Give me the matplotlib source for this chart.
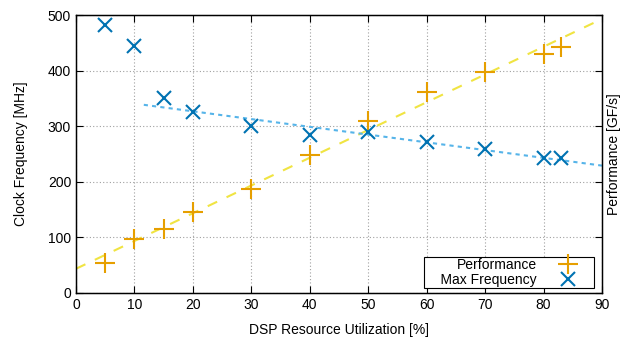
import numpy as np
import matplotlib
matplotlib.use("Agg")
import matplotlib.pyplot as plt

plt.rcParams['font.family'] = ['Liberation Sans', 'DejaVu Sans']

util = [5, 10, 15, 20, 30, 40, 50, 60, 70, 80, 83]
perf = [54, 98, 116, 145, 187, 248, 310, 362, 398, 430, 443]
freq = [482, 444, 350, 326, 300, 285, 290, 272, 259, 243, 242]
xticks = [0, 10, 20, 30, 40, 50, 60, 70, 80, 90]
yticks = [0, 100, 200, 300, 400, 500]

fig = plt.figure(figsize=(6.21, 3.37), dpi=100)
ax = fig.add_axes([76/621, 1-293/337, (602-76)/621, (293-15)/337])

ax.set_xlim(0, 90)
ax.set_ylim(0, 500)
ax.set_xticks(xticks)
ax.set_yticks(yticks)
ax.grid(True, color='#a0a0a0', linestyle=(0, (1, 2)), linewidth=0.8)
ax.set_axisbelow(True)

# fits
pf = np.polyfit(util, perf, 1)
xp = np.linspace(0, 90, 50)
ax.plot(xp, np.polyval(pf, xp), color='#F0E442', lw=1.5, dashes=(5, 5), zorder=2)
ff = np.polyfit(util[2:], freq[2:], 1)
xf = np.linspace(11.6, 90, 50)
ax.plot(xf, np.polyval(ff, xf), color='#56B4E9', lw=1.5, dashes=(2, 2), zorder=2)

ax.plot(util, perf, linestyle='none', marker='+', markersize=14, mew=1.5,
        color='#E69F00', label='Performance', zorder=3)
ax.plot(util, freq, linestyle='none', marker='x', markersize=10, mew=1.5,
        color='#0072B2', label='    Max Frequency', zorder=3)

ax.tick_params(direction='in', length=5, top=True, right=True, labelsize=10, width=0.8)
for s in ax.spines.values():
    s.set_linewidth(1.0)

ax.set_xlabel('DSP Resource Utilization [%]', fontsize=10, labelpad=8)
ax.set_ylabel('Clock Frequency [MHz]', fontsize=10)
ax.yaxis.set_label_coords((28-76)/526, 0.5)

ax2 = ax.twinx()
ax2.set_ylim(0, 500)
ax2.set_yticks(yticks)
ax2.set_yticklabels([])
ax2.tick_params(direction='in', length=5, width=0.8)
ax2.set_ylabel('Performance [GF/s]', fontsize=10)
ax2.yaxis.set_label_coords((607-76)/526, 0.5)

leg = ax.legend(loc='lower right', bbox_to_anchor=((594-76)/526, 5/278),
                borderaxespad=0, markerfirst=False, fancybox=False,
                edgecolor='black', framealpha=1, fontsize=10,
                handlelength=3.5, labelspacing=0.05,
                borderpad=0.1, handletextpad=0.5)
leg.get_frame().set_linewidth(0.8)

fig.savefig('out.png', dpi=100)
